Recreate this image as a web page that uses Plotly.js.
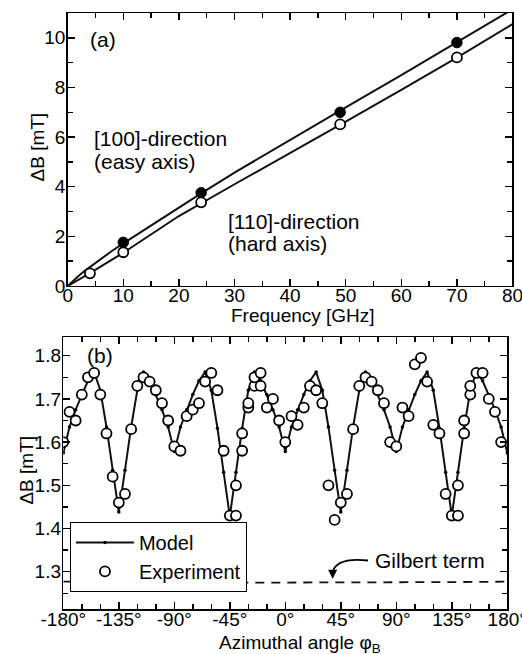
<!DOCTYPE html>
<html>
<head>
<meta charset="utf-8">
<script src="https://cdn.plot.ly/plotly-3.0.1.min.js"></script>
<style>html,body{margin:0;padding:0;background:#fff;}#chart{width:522px;height:654px;}</style>
</head>
<body>
<div id="chart"></div>
<script>
// ---------- Panel (a): linewidth vs frequency ----------
const freqEasyExp = [10, 24, 49, 70];
const dbEasyExp = [1.76, 3.76, 7.0, 9.81];
const freqHardExp = [4, 10, 24, 49, 70];
const dbHardExp = [0.51, 1.36, 3.37, 6.51, 9.21];
const freqEasyFit = [0, 1, 2, 3, 4, 6, 8, 10, 14, 18, 24, 30, 40, 50, 60, 70, 80];
const dbEasyFit = [0, 0.22, 0.41, 0.6, 0.77, 1.1, 1.42, 1.72, 2.3, 2.85, 3.73, 4.57, 5.9, 7.2, 8.5, 9.82, 11.15];
const freqHardFit = [0, 2, 4, 10, 20, 30, 40, 50, 60, 70, 80];
const dbHardFit = [0, 0.25, 0.52, 1.34, 2.82, 4.1, 5.35, 6.62, 7.9, 9.2, 10.55];
const freqTicks = [0, 10, 20, 30, 40, 50, 60, 70, 80];
const dbTicksA = [0, 2, 4, 6, 8, 10];

// ---------- Panel (b): linewidth vs azimuthal angle ----------
const angleModel = [-180,-175,-170,-165,-160,-155,-150,-145,-140,-135,-130,-125,-120,-115,-110,-105,-100,-95,-90,
  -85,-80,-75,-70,-65,-60,-55,-50,-45,-40,-35,-30,-25,-20,-15,-10,-5,0,
  5,10,15,20,25,30,35,40,45,50,55,60,65,70,75,80,85,90,
  95,100,105,110,115,120,125,130,135,140,145,150,155,160,165,170,175,180];
const dbModel = [1.575,1.635,1.675,1.71,1.742,1.762,1.72,1.635,1.535,1.438,1.535,1.635,1.72,1.762,1.742,1.71,1.675,1.635,1.578,
  1.635,1.675,1.71,1.742,1.762,1.72,1.632,1.53,1.428,1.53,1.632,1.72,1.762,1.742,1.71,1.675,1.635,1.578,
  1.635,1.675,1.71,1.742,1.762,1.72,1.635,1.535,1.438,1.535,1.635,1.72,1.762,1.742,1.71,1.675,1.635,1.578,
  1.635,1.675,1.71,1.742,1.762,1.72,1.632,1.53,1.43,1.53,1.632,1.72,1.762,1.742,1.71,1.675,1.635,1.575];
const angleExp = [-180,-175,-170,-165,-160,-155,-150,-145,-140,-135,-130,-125,-120,-115,-110,-105,-100,-95,-90,-85,
  -80,-75,-70,-65,-60,-55,-50,-45,-40,-40,-35,-35,-30,-30,-25,-25,-20,-20,-15,-10,-5,0,
  5,10,15,20,25,30,35,40,45,50,55,60,65,70,75,80,85,90,95,100,105,110,115,120,125,130,135,140,140,
  145,145,150,150,155,160,165,170,175];
const dbExp = [1.60,1.67,1.65,1.71,1.75,1.76,1.71,1.62,1.52,1.46,1.48,1.63,1.73,1.75,1.74,1.72,1.69,1.65,1.59,1.58,
  1.66,1.675,1.69,1.74,1.76,1.72,1.58,1.43,1.43,1.50,1.58,1.62,1.68,1.69,1.73,1.75,1.76,1.73,1.68,1.70,1.65,1.60,
  1.66,1.64,1.68,1.73,1.72,1.69,1.50,1.42,1.46,1.48,1.63,1.73,1.75,1.74,1.72,1.69,1.60,1.59,1.68,1.66,1.78,1.795,1.74,1.64,1.62,1.48,1.43,1.43,1.50,
  1.62,1.65,1.71,1.73,1.76,1.76,1.70,1.67,1.60];
const angleGilbert = [-180,-135,-90,-45,0,45,90,135,180];
const dbGilbert = [1.277,1.276,1.276,1.275,1.275,1.275,1.276,1.276,1.277];
const angleTickVals = [-180,-135,-90,-45,0,45,90,135,180];
const angleTickText = ['-180°','-135°','-90°','-45°','0°','45°','90°','135°','180°'];

const FONT = 'Liberation Sans, Arial, Helvetica, sans-serif';

const traces = [
  {x: freqEasyFit, y: dbEasyFit, xaxis:'x', yaxis:'y', mode:'lines', line:{color:'#111', width:2}, showlegend:false, hoverinfo:'skip'},
  {x: freqHardFit, y: dbHardFit, xaxis:'x', yaxis:'y', mode:'lines', line:{color:'#111', width:2}, showlegend:false, hoverinfo:'skip'},
  {x: freqEasyExp, y: dbEasyExp, xaxis:'x', yaxis:'y', mode:'markers', marker:{symbol:'circle', size:10.5, color:'#000', line:{color:'#000', width:1}}, showlegend:false},
  {x: freqHardExp, y: dbHardExp, xaxis:'x', yaxis:'y', mode:'markers', marker:{symbol:'circle', size:10, color:'#fff', line:{color:'#000', width:1.8}}, showlegend:false},
  {x: angleGilbert, y: dbGilbert, xaxis:'x2', yaxis:'y2', mode:'lines', line:{color:'#111', width:1.8, dash:'9px,7px'}, showlegend:false, hoverinfo:'skip'},
  {x: angleModel, y: dbModel, xaxis:'x2', yaxis:'y2', mode:'lines+markers', name:'Model', line:{color:'#111', width:2}, marker:{size:3.5, color:'#000'}},
  {x: angleExp, y: dbExp, xaxis:'x2', yaxis:'y2', mode:'markers', name:'Experiment', marker:{symbol:'circle', size:10, color:'#fff', line:{color:'#000', width:1.8}}}
];

function axisBase(isX) {
  return {
    showgrid:false, zeroline:false, showline:true, linecolor:'#000', linewidth:1.5,
    mirror:'allticks', ticks:'inside', ticklen:7, tickwidth:1.5, tickcolor:'#000',
    tickfont:{family:FONT, size:19, color:'#000'}, ticklabelstandoff: isX ? -8 : -3,
    ticklabeloverflow:'allow'
  };
}

const titleFont = {family:FONT, size:19, color:'#000'};
const annFont = {family:FONT, size:21, color:'#000'};

const layout = {
  width:522, height:654,
  margin:{l:0, r:0, t:0, b:0},
  paper_bgcolor:'#fff', plot_bgcolor:'#fff',
  font:{family:FONT, color:'#000'},
  showlegend:true,
  legend:{x:0.134, y:0.2020, xanchor:'left', yanchor:'top', bgcolor:'#fff', bordercolor:'#000', borderwidth:1,
    font:{family:FONT, size:20, color:'#000'}, tracegroupgap:0, itemwidth:58},
  xaxis: Object.assign(axisBase(true), {domain:[0.1297, 0.9818], range:[0,80], anchor:'y', tickmode:'array', tickvals:freqTicks,
    minor:{dtick:5, tick0:0, ticks:'inside', ticklen:5, tickwidth:1.5, tickcolor:'#000'}}),
  yaxis: Object.assign(axisBase(false), {domain:[0.5627, 0.9801], range:[0,11], anchor:'x', tickmode:'array', tickvals:dbTicksA,
    minor:{dtick:1, tick0:0, ticks:'inside', ticklen:5, tickwidth:1.5, tickcolor:'#000'}}),
  xaxis2: Object.assign(axisBase(true), {domain:[0.1213, 0.9718], range:[-180,180], anchor:'y2', tickmode:'array', tickvals:angleTickVals, ticktext:angleTickText,
    minor:{dtick:15, tick0:-180, ticks:'inside', ticklen:5, tickwidth:1.5, tickcolor:'#000'}}),
  yaxis2: Object.assign(axisBase(false), {domain:[0.0683, 0.4843], range:[1.213, 1.8426], anchor:'x2', tick0:1.3, dtick:0.1, tickformat:'.1f',
    minor:{dtick:0.05, tick0:1.25, ticks:'inside', ticklen:5, tickwidth:1.5, tickcolor:'#000'}}),
  annotations:[
    // axis titles
    {xref:'paper', yref:'paper', x:0.581, y:0.5180, text:'Frequency [GHz]', showarrow:false, xanchor:'center', yanchor:'middle', font:titleFont},
    {xref:'paper', yref:'paper', x:0.0718, y:0.7752, text:'ΔB [mT]', textangle:-90, showarrow:false, xanchor:'center', yanchor:'middle', font:titleFont},
    {xref:'paper', yref:'paper', x:0.575, y:0.0160, text:'Azimuthal angle φ<sub>B</sub>', showarrow:false, xanchor:'center', yanchor:'middle', font:titleFont},
    {xref:'paper', yref:'paper', x:0.049, y:0.2813, text:'ΔB [mT]', textangle:-90, showarrow:false, xanchor:'center', yanchor:'middle', font:titleFont},
    // panel labels and notes
    {xref:'x', yref:'y', x:3.6, y:9.95, text:'(a)', showarrow:false, xanchor:'left', yanchor:'middle', font:annFont},
    {xref:'x', yref:'y', x:4.4, y:5.95, text:'[100]-direction', showarrow:false, xanchor:'left', yanchor:'middle', font:annFont},
    {xref:'x', yref:'y', x:4.4, y:5.03, text:'(easy axis)', showarrow:false, xanchor:'left', yanchor:'middle', font:annFont},
    {xref:'x', yref:'y', x:28.5, y:2.6, text:'[110]-direction', showarrow:false, xanchor:'left', yanchor:'middle', font:annFont},
    {xref:'x', yref:'y', x:28.5, y:1.7, text:'(hard axis)', showarrow:false, xanchor:'left', yanchor:'middle', font:annFont},
    {xref:'x2', yref:'y2', x:-162.4, y:1.8, text:'(b)', showarrow:false, xanchor:'left', yanchor:'middle', font:annFont},
    {xref:'x2', yref:'y2', x:71.4, y:1.327, text:'Gilbert term', showarrow:false, xanchor:'left', yanchor:'middle', font:annFont},
    {xref:'x2', yref:'y2', x:38.4, y:1.284, ax:0, ay:-7, text:'', showarrow:true, arrowhead:2, arrowsize:1, arrowwidth:1.8, arrowcolor:'#000'}
  ],
  shapes:[
    {type:'path', xref:'x2', yref:'y2', path:'M 67,1.326 Q 41,1.334 38.4,1.298', line:{color:'#000', width:1.8}}
  ]
};

Plotly.newPlot('chart', traces, layout, {staticPlot:true, displayModeBar:false});
</script>
</body>
</html>
